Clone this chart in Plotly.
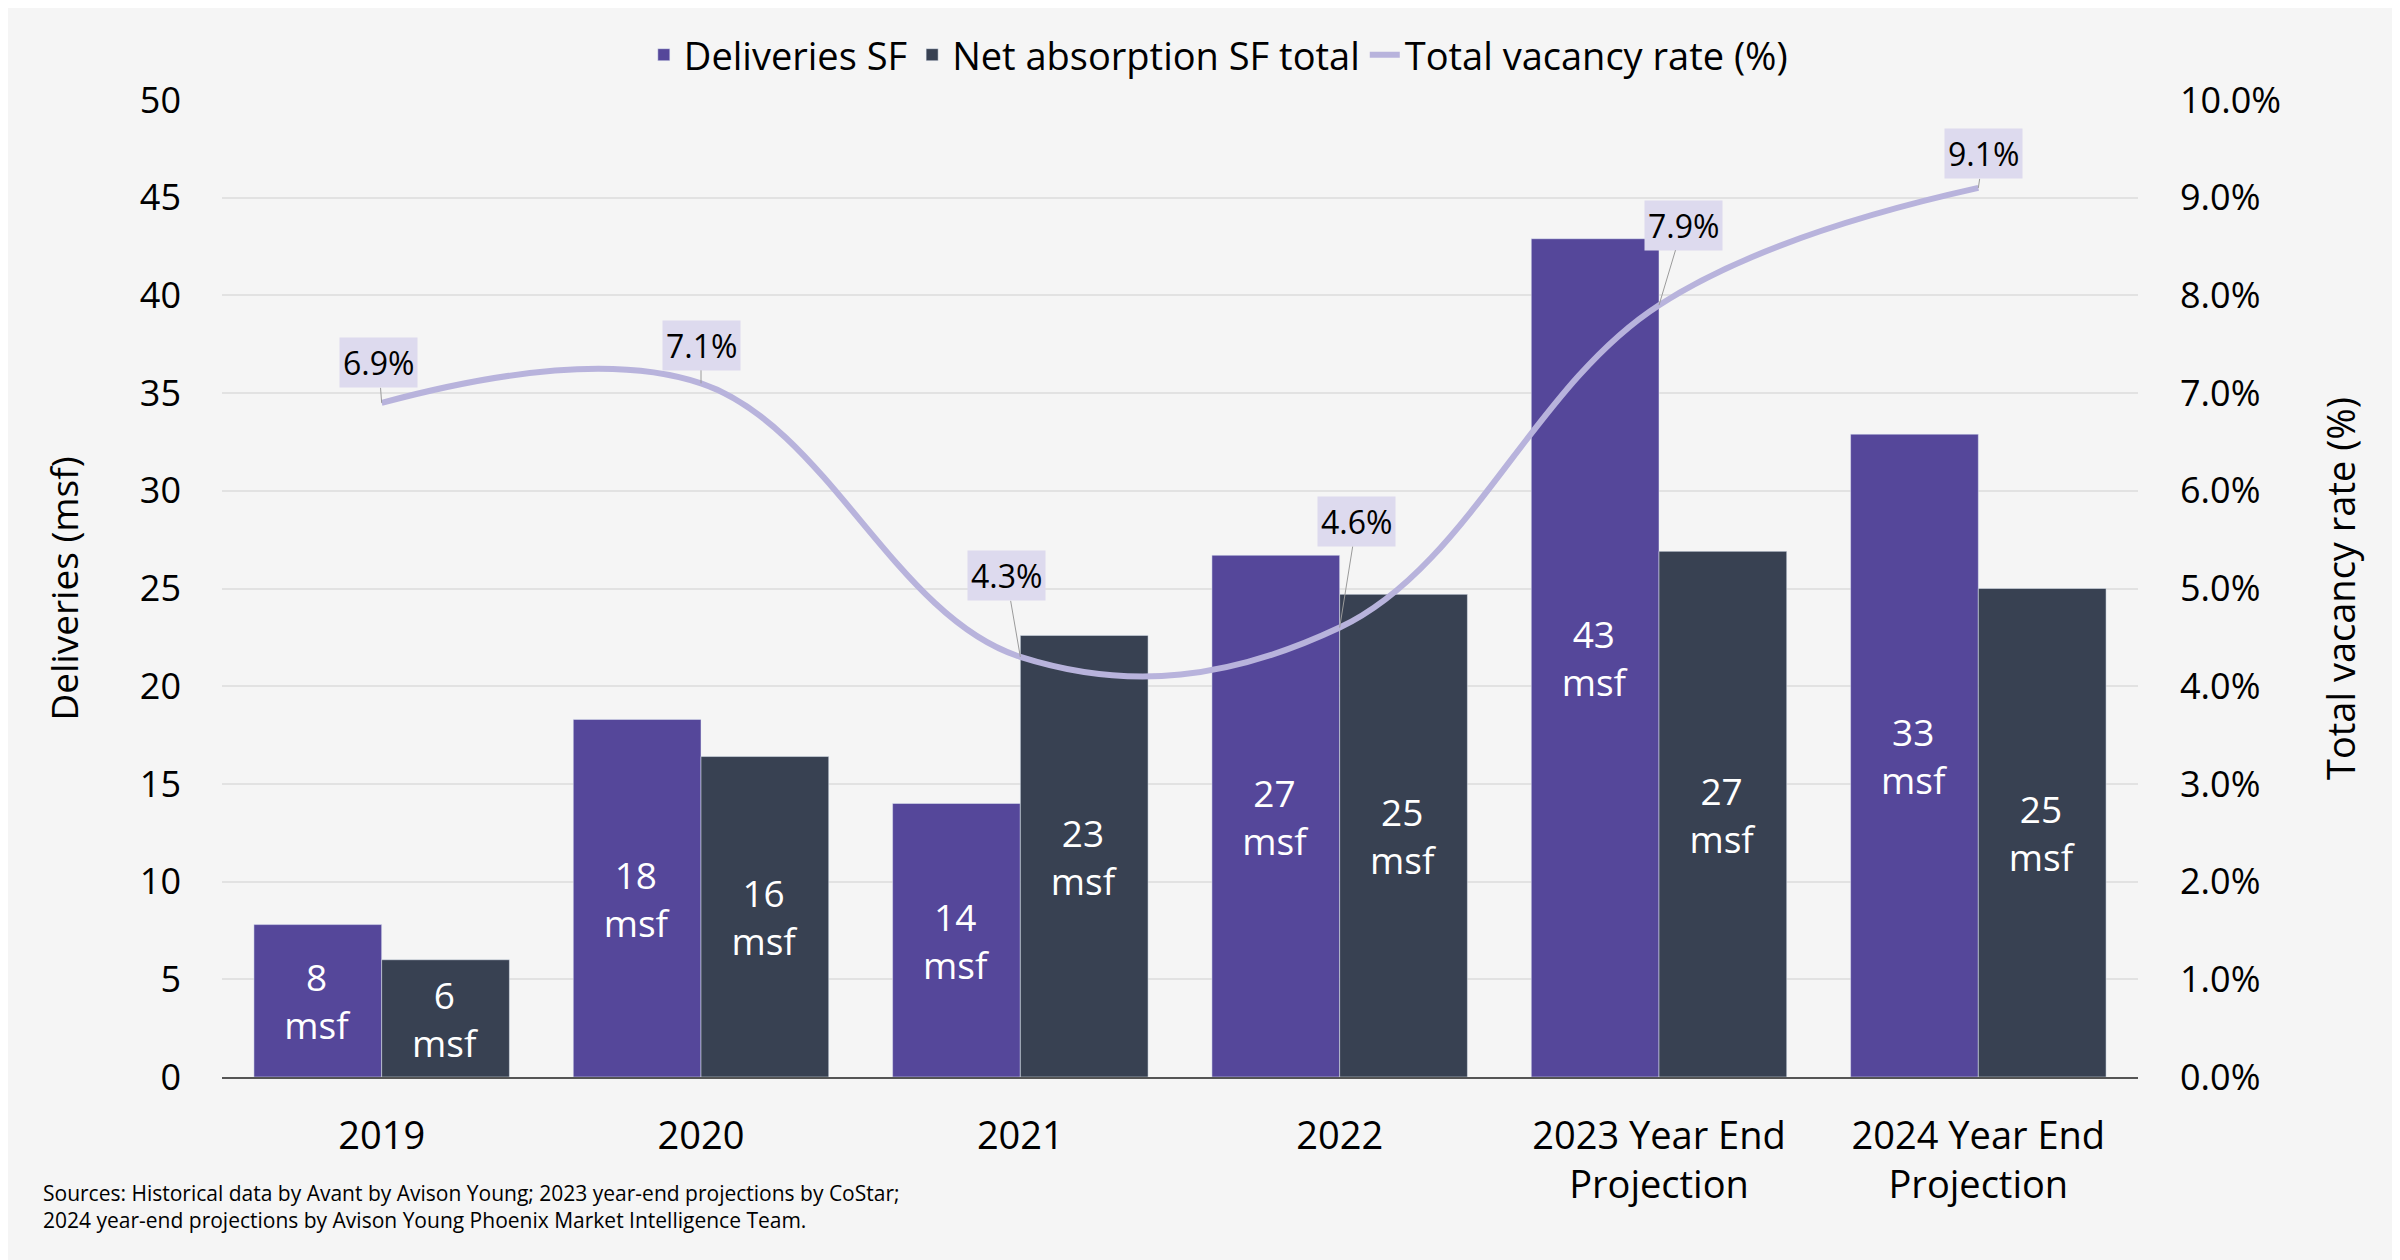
import plotly.graph_objects as go

# Datos
categorias = ['2019', '2020', '2021', '2022', '2023 Year End<br>Projection', '2024 Year End<br>Projection']
entregas = [7.8, 18.3, 14.0, 26.7, 42.9, 32.9]
absorcion_neta = [6.0, 16.4, 22.6, 24.7, 26.9, 25.0]
vacancia = [6.9, 7.1, 4.3, 4.6, 7.9, 9.1]

# Desplazamiento de las etiquetas de vacancia (px)
desp_x = [-3, 0, -14, 17, 24, 5]
desp_y = [-40, -38, -81, -106, -80, -34]

FUENTE = 'Open Sans'
fig = go.Figure()

fig.add_trace(go.Bar(
    x=categorias,
    y=entregas,
    name='Deliveries SF',
    marker_color='#55479a',
    texttemplate='%{y:.0f}<br>msf',
    textposition='inside',
    insidetextanchor='middle',
    textfont=dict(color='white', size=37, family=FUENTE),
    textangle=0,
))

fig.add_trace(go.Bar(
    x=categorias,
    y=absorcion_neta,
    name='Net absorption SF total',
    marker_color='#384152',
    texttemplate='%{y:.0f}<br>msf',
    textposition='inside',
    insidetextanchor='middle',
    textfont=dict(color='white', size=37, family=FUENTE),
    textangle=0,
))

fig.add_trace(go.Scatter(
    x=categorias,
    y=vacancia,
    name='Total vacancy rate (%)',
    mode='lines',
    line=dict(color='#b8b3dc', width=6, shape='spline', smoothing=1.1),
    yaxis='y2',
))

# Etiquetas de vacancia (x = índice de la categoría)
for i, (v, dx, dy) in enumerate(zip(vacancia, desp_x, desp_y)):
    fig.add_annotation(
        x=i, y=v, yref='y2',
        text=f'{v:.1f}%',
        showarrow=True, arrowhead=0, arrowwidth=1, arrowcolor='#9a9a9a',
        ax=dx, ay=dy,
        bgcolor='#dddaee',
        borderpad=3,
        font=dict(size=32, color='black', family=FUENTE),
    )

# Fuente de los datos
fig.add_annotation(
    x=-(214 - 33) / 1916, y=-(1169 - 1069) / 977, xref='paper', yref='paper',
    text='Sources: Historical data by Avant by Avison Young; 2023 year-end projections by CoStar;'
         '<br>2024 year-end projections by Avison Young Phoenix Market Intelligence Team.',
    showarrow=False, align='left', xanchor='left', yanchor='top',
    font=dict(size=21, color='black', family=FUENTE),
)

# Configuración
fig.update_layout(
    width=2400, height=1260,
    margin=dict(l=214, r=270, t=92, b=191, autoexpand=False),
    paper_bgcolor='#f5f5f5',
    plot_bgcolor='#f5f5f5',
    font=dict(family=FUENTE, color='black'),
    barmode='group',
    bargap=0.2,
    bargroupgap=0,
    legend=dict(orientation='h', x=0.52, xanchor='center', y=1 - 47 / 1260, yref='container',
                yanchor='middle', font=dict(size=38), itemwidth=30, traceorder='normal',
                bgcolor='rgba(0,0,0,0)'),
    showlegend=True,
    xaxis=dict(type='category', range=[-0.5, len(categorias) - 0.5], tickfont=dict(size=38),
               showline=True, linecolor='#555555', linewidth=2, ticks='', ticklabelstandoff=24),
    yaxis=dict(range=[0, 50], dtick=5, tickfont=dict(size=36), gridcolor='#e2e2e2', gridwidth=2,
               zeroline=False, title=dict(text='Deliveries (msf)', font=dict(size=37), standoff=49),
               ticklabelstandoff=40),
    yaxis2=dict(range=[0, 10], dtick=1, overlaying='y', side='right', ticksuffix='%',
                tickformat='.1f', tickfont=dict(size=36), showgrid=False, zeroline=False,
                title=dict(text='Total vacancy rate (%)', font=dict(size=38), standoff=48),
                ticklabelstandoff=41),
)

fig.write_html('out.html')
